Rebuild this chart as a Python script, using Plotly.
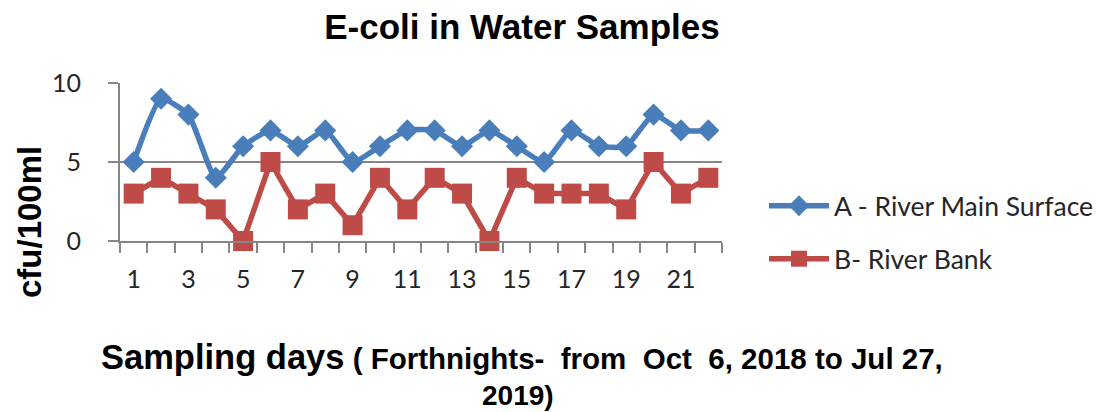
import plotly.graph_objects as go

days = list(range(1, 23))
series_a = [5, 9, 8, 4, 6, 7, 6, 7, 5, 6, 7, 7, 6, 7, 6, 5, 7, 6, 6, 8, 7, 7]
series_b = [3, 4, 3, 2, 0, 5, 2, 3, 1, 4, 2, 4, 3, 0, 4, 3, 3, 3, 2, 5, 3, 4]
name_a = "A - River Main Surface"
name_b = "B- River Bank"
x_tick_vals = list(range(1, 23, 2))
y_tick_vals = [0, 5, 10]

blue = "#4A7EBB"
red = "#BE4B48"
bold_font = "Liberation Sans, Arial"
lab_font = "Lato, Noto Sans, Liberation Sans"
axis_grey = "#868686"

OFF = 8  # page body margin in the browser
L, R, T, B = 120 - OFF, 722 - OFF, 83 - OFF, 241 - OFF
W, H = 1108, 412
pw, ph = R - L, B - T


def px_x(x):
    return (x - OFF - L) / pw


def px_y(y):
    return (B - (y - OFF)) / ph


fig = go.Figure()
fig.add_trace(go.Scatter(
    x=days, y=series_a, name=name_a, mode="lines+markers",
    line=dict(color=blue, width=5.5, shape="spline", smoothing=0.5),
    marker=dict(symbol="diamond", size=17, color=blue),
    cliponaxis=False, legend="legend"))
fig.add_trace(go.Scatter(
    x=days, y=series_b, name=name_b, mode="lines+markers",
    line=dict(color=red, width=5.5),
    marker=dict(symbol="square", size=20, color=red),
    cliponaxis=False, legend="legend2"))

leg_common = dict(xanchor="left", yanchor="middle", itemwidth=60,
                  font=dict(family=lab_font, size=26.5, color="#262626"),
                  bgcolor="rgba(0,0,0,0)")

fig.update_layout(
    width=W, height=H,
    margin=dict(l=L, r=W - R, t=T, b=H - B, autoexpand=False),
    paper_bgcolor="white", plot_bgcolor="white",
    title=dict(text="<b>E-coli in Water Samples</b>", x=(522 - OFF) / W, xanchor="center",
               y=1 - (27 - OFF) / H, yanchor="middle",
               font=dict(family=bold_font, size=35, color="black")),
    xaxis=dict(range=[0.5, 22.5], tickvals=x_tick_vals, ticktext=[str(v) for v in x_tick_vals],
               ticks="", showgrid=False, zeroline=False, showline=True,
               linecolor=axis_grey, linewidth=2,
               minor=dict(tick0=0.5, dtick=1, ticks="outside", ticklen=10, tickcolor=axis_grey,
                          tickwidth=2, showgrid=False),
               tickfont=dict(family=lab_font, size=25, color="#262626"), ticklabelstandoff=15),
    yaxis=dict(range=[0, 10], tickvals=y_tick_vals, ticks="outside", ticklen=10,
               tickcolor=axis_grey, tickwidth=2,
               showgrid=True, gridcolor=axis_grey, gridwidth=2, zeroline=False,
               showline=True, linecolor=axis_grey, linewidth=2,
               tickfont=dict(family=lab_font, size=25, color="#262626"), ticklabelstandoff=22),
    legend=dict(x=px_x(764), y=px_y(206), **leg_common),
    legend2=dict(x=px_x(764), y=px_y(259), **leg_common),
    showlegend=True,
)

fig.add_annotation(text="<b>cfu/100ml</b>", textangle=-90, xref="paper", yref="paper",
                   x=px_x(29), y=px_y(222), xanchor="center", yanchor="middle",
                   showarrow=False, font=dict(family=bold_font, size=33, color="black"))
fig.add_annotation(
    text="<b><span style='font-size:34.5px'>Sampling days</span> ( Forthnights-&nbsp; from&nbsp; Oct&nbsp; 6, 2018 to Jul 27,</b>",
    xref="paper", yref="paper", x=px_x(522), y=px_y(357), xanchor="center", yanchor="middle",
    showarrow=False, font=dict(family=bold_font, size=29.5, color="black"))
fig.add_annotation(
    text="<b>2019)</b>",
    xref="paper", yref="paper", x=px_x(518), y=px_y(395), xanchor="center", yanchor="middle",
    showarrow=False, font=dict(family=bold_font, size=28, color="black"))

fig.write_html("out.html")
